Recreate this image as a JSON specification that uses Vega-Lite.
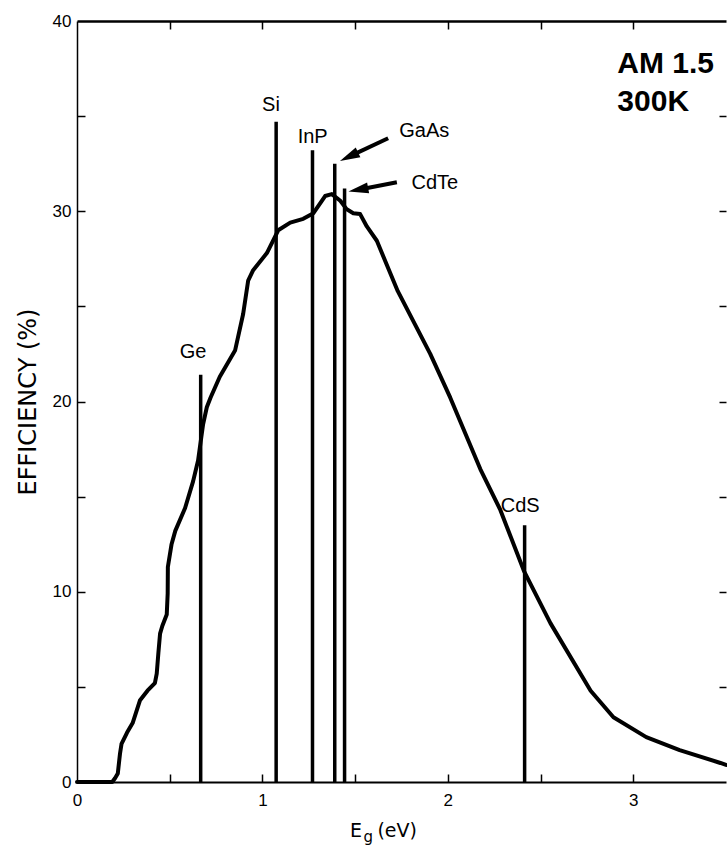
{
  "$schema": "https://vega.github.io/schema/vega-lite/v6.json",
  "width": 649,
  "height": 761,
  "autosize": {"type": "none"},
  "padding": {"left": 77, "top": 21, "right": 1, "bottom": 66},
  "background": "white",
  "config": {"view": {"stroke": null}, "font": "Liberation Sans"},
  "resolve": {"axis": {"x": "independent", "y": "independent"}},
  "datasets": {
    "curve": [
      {"e": 0, "eff": 0}, {"e": 0.19, "eff": 0}, {"e": 0.205, "eff": 0.2}, {"e": 0.22, "eff": 0.45},
      {"e": 0.232, "eff": 1.5}, {"e": 0.24, "eff": 2.0}, {"e": 0.27, "eff": 2.6}, {"e": 0.3, "eff": 3.1},
      {"e": 0.34, "eff": 4.3}, {"e": 0.38, "eff": 4.8}, {"e": 0.42, "eff": 5.2}, {"e": 0.43, "eff": 5.7},
      {"e": 0.439, "eff": 6.8}, {"e": 0.448, "eff": 7.8}, {"e": 0.46, "eff": 8.2}, {"e": 0.484, "eff": 8.8},
      {"e": 0.489, "eff": 9.9}, {"e": 0.49, "eff": 11.3}, {"e": 0.51, "eff": 12.5}, {"e": 0.53, "eff": 13.2},
      {"e": 0.583, "eff": 14.4}, {"e": 0.626, "eff": 15.8}, {"e": 0.653, "eff": 16.9}, {"e": 0.68, "eff": 18.8},
      {"e": 0.7, "eff": 19.7}, {"e": 0.72, "eff": 20.2}, {"e": 0.77, "eff": 21.3}, {"e": 0.853, "eff": 22.7},
      {"e": 0.896, "eff": 24.6}, {"e": 0.923, "eff": 26.35}, {"e": 0.95, "eff": 26.9}, {"e": 1.024, "eff": 27.8},
      {"e": 1.085, "eff": 29.0}, {"e": 1.15, "eff": 29.4}, {"e": 1.22, "eff": 29.6}, {"e": 1.275, "eff": 29.9},
      {"e": 1.338, "eff": 30.8}, {"e": 1.374, "eff": 30.9}, {"e": 1.42, "eff": 30.55}, {"e": 1.455, "eff": 30.1},
      {"e": 1.49, "eff": 29.9}, {"e": 1.527, "eff": 29.85}, {"e": 1.563, "eff": 29.2}, {"e": 1.617, "eff": 28.45},
      {"e": 1.67, "eff": 27.2}, {"e": 1.73, "eff": 25.8}, {"e": 1.905, "eff": 22.5}, {"e": 2.013, "eff": 20.2},
      {"e": 2.175, "eff": 16.45}, {"e": 2.283, "eff": 14.3}, {"e": 2.41, "eff": 11.1}, {"e": 2.553, "eff": 8.35},
      {"e": 2.77, "eff": 4.8}, {"e": 2.893, "eff": 3.4}, {"e": 3.07, "eff": 2.36}, {"e": 3.25, "eff": 1.68},
      {"e": 3.47, "eff": 1.0}, {"e": 3.5, "eff": 0.9}
    ],
    "gaps": [
      {"material": "Ge", "eg": 0.667, "top": 21.4, "bottom": 0},
      {"material": "Si", "eg": 1.074, "top": 34.7, "bottom": 0},
      {"material": "InP", "eg": 1.27, "top": 33.2, "bottom": 0},
      {"material": "GaAs", "eg": 1.39, "top": 32.5, "bottom": 0},
      {"material": "CdTe", "eg": 1.443, "top": 31.2, "bottom": 0},
      {"material": "CdS", "eg": 2.414, "top": 13.5, "bottom": 0}
    ],
    "labels": [
      {"text": "Ge", "e": 0.626, "eff": 22.6},
      {"text": "Si", "e": 1.046, "eff": 35.6},
      {"text": "InP", "e": 1.271, "eff": 33.9},
      {"text": "GaAs", "e": 1.873, "eff": 34.2},
      {"text": "CdTe", "e": 1.93, "eff": 31.5},
      {"text": "CdS", "e": 2.39, "eff": 14.5}
    ],
    "shafts": [
      {"target": "GaAs", "e": 1.678, "eff": 33.84, "e2": 1.467, "eff2": 32.87},
      {"target": "CdTe", "e": 1.725, "eff": 31.52, "e2": 1.517, "eff2": 31.13}
    ],
    "heads": [
      {"target": "GaAs", "e": 1.467, "eff": 32.87},
      {"target": "CdTe", "e": 1.517, "eff": 31.13}
    ],
    "conditions": [
      {"text": "AM 1.5", "e": 2.914, "eff": 37.75},
      {"text": "300K", "e": 2.914, "eff": 35.75}
    ],
    "xtitle": [
      {"text": "E", "e": 1.472, "eff": -2.89},
      {"text": "(eV)", "e": 1.62, "eff": -2.89}
    ],
    "xtitlesub": [
      {"text": "g", "e": 1.545, "eff": -3.15}
    ]
  },
  "layer": [
    {
      "data": {"name": "curve"},
      "mark": {"type": "line", "color": "black", "strokeWidth": 4, "strokeJoin": "round", "strokeCap": "round"},
      "encoding": {
        "x": {
          "field": "e", "type": "quantitative",
          "scale": {"domain": [0, 3.5], "nice": false, "zero": false},
          "axis": {
            "orient": "bottom", "title": null, "format": "d",
            "values": [0, 1, 2, 3],
            "grid": false, "domainColor": "black", "domainWidth": 2,
            "ticks": false,
            "labelPadding": 10, "labelFontSize": 17, "labelColor": "black", "labelFlush": false
          }
        },
        "y": {
          "field": "eff", "type": "quantitative",
          "scale": {"domain": [0, 40], "nice": false},
          "axis": {
            "orient": "left", "title": "EFFICIENCY (%)",
            "values": [0, 10, 20, 30, 40],
            "grid": false, "domainColor": "black", "domainWidth": 1.5,
            "ticks": false,
            "labelPadding": 6, "labelFontSize": 17, "labelColor": "black", "labelFlush": false,
            "titleFont": "DejaVu Sans", "titleFontSize": 24, "titleFontWeight": "normal", "titleColor": "black", "titlePadding": 12
          }
        }
      }
    },
    {
      "data": {"name": "gaps"},
      "mark": {"type": "rule", "color": "black", "strokeWidth": 3.5},
      "encoding": {
        "x": {
          "field": "eg", "type": "quantitative",
          "axis": {
            "orient": "bottom", "offset": -761, "title": null, "labels": false,
            "values": [0.5, 1, 1.5, 2, 2.5, 3],
            "grid": false, "domainColor": "black", "domainWidth": 2.5,
            "tickColor": "black", "tickWidth": 1.5, "tickSize": 8
          }
        },
        "y": {
          "field": "bottom", "type": "quantitative",
          "axis": {
            "orient": "left", "offset": -649, "title": null, "labels": false, "domain": false,
            "values": [5, 10, 15, 20, 25, 30, 35],
            "grid": false, "tickColor": "black", "tickWidth": 1.5, "tickSize": 7
          }
        },
        "y2": {"field": "top"}
      }
    },
    {
      "data": {"name": "labels"},
      "mark": {"type": "text", "fontSize": 20, "color": "black", "align": "center", "baseline": "middle"},
      "encoding": {
        "x": {
          "field": "e", "type": "quantitative",
          "axis": {
            "orient": "top", "offset": -761, "title": null, "labels": false, "domain": false,
            "values": [0.5, 1, 1.5, 2, 2.5, 3],
            "grid": false, "tickColor": "black", "tickWidth": 1.5, "tickSize": 8
          }
        },
        "y": {
          "field": "eff", "type": "quantitative",
          "axis": {
            "orient": "right", "offset": -649, "title": null, "labels": false, "domain": false,
            "values": [5, 10, 15, 20, 25, 30, 35],
            "grid": false, "tickColor": "black", "tickWidth": 1.5, "tickSize": 8
          }
        },
        "text": {"field": "text"}
      }
    },
    {
      "data": {"name": "shafts"},
      "mark": {"type": "rule", "color": "black", "strokeWidth": 4},
      "encoding": {
        "x": {"field": "e", "type": "quantitative", "axis": null},
        "y": {"field": "eff", "type": "quantitative", "axis": null},
        "x2": {"field": "e2"},
        "y2": {"field": "eff2"}
      }
    },
    {
      "data": {"name": "heads"},
      "transform": [{"filter": "datum.target === 'GaAs'"}],
      "mark": {"type": "point", "shape": "M-1,0L1,-0.55L1,0.55Z", "size": 400, "filled": true, "color": "black", "opacity": 1, "angle": 334.8},
      "encoding": {
        "x": {"field": "e", "type": "quantitative", "axis": null},
        "y": {"field": "eff", "type": "quantitative", "axis": null}
      }
    },
    {
      "data": {"name": "heads"},
      "transform": [{"filter": "datum.target === 'CdTe'"}],
      "mark": {"type": "point", "shape": "M-1,0L1,-0.55L1,0.55Z", "size": 400, "filled": true, "color": "black", "opacity": 1, "angle": 349.5},
      "encoding": {
        "x": {"field": "e", "type": "quantitative", "axis": null},
        "y": {"field": "eff", "type": "quantitative", "axis": null}
      }
    },
    {
      "data": {"name": "conditions"},
      "mark": {"type": "text", "fontSize": 30, "fontWeight": "bold", "color": "black", "align": "left", "baseline": "middle"},
      "encoding": {
        "x": {"field": "e", "type": "quantitative", "axis": null},
        "y": {"field": "eff", "type": "quantitative", "axis": null},
        "text": {"field": "text"}
      }
    },
    {
      "data": {"name": "xtitle"},
      "mark": {"type": "text", "font": "DejaVu Sans", "fontSize": 19, "color": "black", "align": "left", "baseline": "alphabetic"},
      "encoding": {
        "x": {"field": "e", "type": "quantitative", "axis": null},
        "y": {"field": "eff", "type": "quantitative", "axis": null},
        "text": {"field": "text"}
      }
    },
    {
      "data": {"name": "xtitlesub"},
      "mark": {"type": "text", "font": "DejaVu Sans", "fontSize": 15, "color": "black", "align": "left", "baseline": "alphabetic"},
      "encoding": {
        "x": {"field": "e", "type": "quantitative", "axis": null},
        "y": {"field": "eff", "type": "quantitative", "axis": null},
        "text": {"field": "text"}
      }
    }
  ]
}
